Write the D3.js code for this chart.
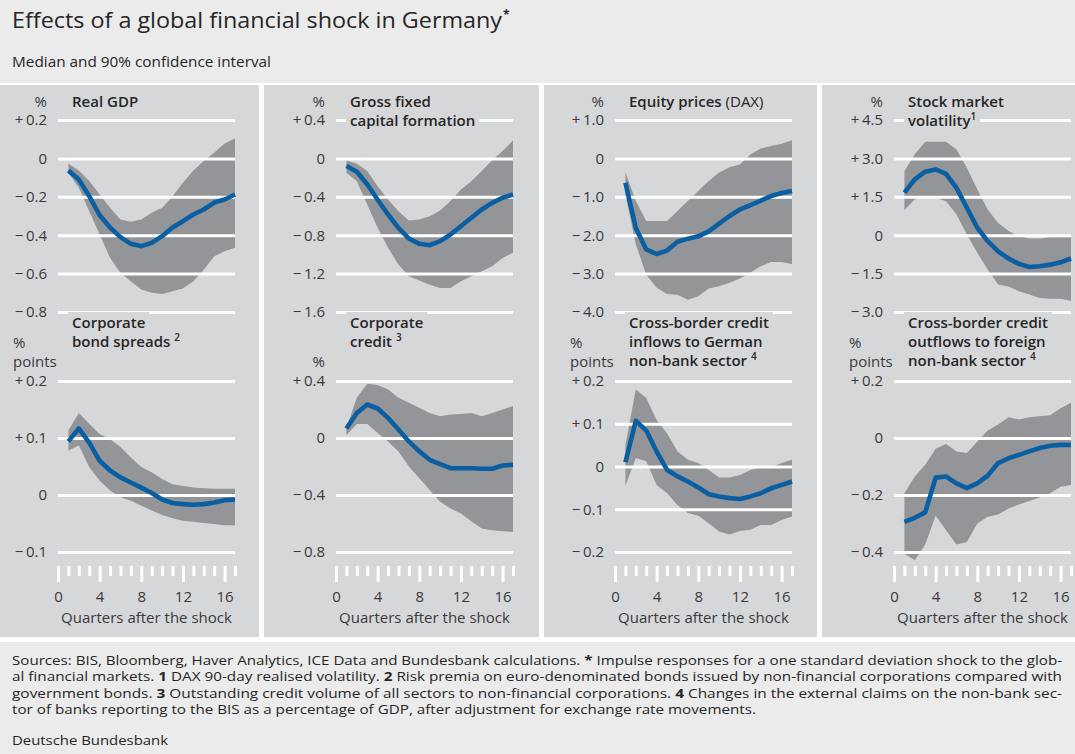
<!DOCTYPE html>
<html><head><meta charset="utf-8">
<script src="https://cdn.jsdelivr.net/npm/d3@7"></script>
<style>
body{margin:0;background:#fff;}
svg{display:block;font-family:"Open Sans","Noto Sans",sans-serif;}
</style>
</head><body><svg id="c" width="1075" height="754"></svg>
<script>
// ---------------- DATA ----------------
const quarters = [1,2,3,4,5,6,7,8,9,10,11,12,13,14,15,16,17];
const xTickLabels = [0,4,8,12,16];

const gdpMedian = [-0.063,-0.11,-0.197,-0.296,-0.36,-0.41,-0.445,-0.457,-0.44,-0.405,-0.36,-0.327,-0.292,-0.266,-0.23,-0.214,-0.188];
const gdpUpper  = [-0.028,-0.063,-0.118,-0.188,-0.257,-0.318,-0.33,-0.318,-0.283,-0.257,-0.197,-0.127,-0.063,-0.014,0.03,0.077,0.104];
const gdpLower  = [-0.075,-0.153,-0.275,-0.397,-0.518,-0.597,-0.64,-0.683,-0.70,-0.706,-0.692,-0.678,-0.64,-0.58,-0.51,-0.483,-0.466];
const gdpTicks  = [0.2,0,-0.2,-0.4,-0.6,-0.8];

const gfcfMedian = [-0.08,-0.139,-0.27,-0.43,-0.584,-0.723,-0.835,-0.89,-0.904,-0.862,-0.793,-0.706,-0.619,-0.532,-0.463,-0.41,-0.376];
const gfcfUpper  = [-0.02,-0.056,-0.132,-0.289,-0.428,-0.55,-0.647,-0.637,-0.602,-0.543,-0.445,-0.323,-0.237,-0.132,-0.02,0.077,0.188];
const gfcfLower  = [-0.15,-0.237,-0.48,-0.723,-0.932,-1.106,-1.228,-1.273,-1.315,-1.35,-1.35,-1.28,-1.228,-1.176,-1.123,-1.037,-0.984];
const gfcfTicks  = [0.4,0,-0.4,-0.8,-1.2,-1.6];

const equityMedian = [-0.635,-1.81,-2.37,-2.49,-2.4,-2.17,-2.09,-2.03,-1.9,-1.70,-1.5,-1.33,-1.22,-1.1,-0.98,-0.9,-0.85];
const equityUpper  = [-0.37,-1.11,-1.63,-1.63,-1.63,-1.37,-1.11,-0.85,-0.59,-0.37,-0.23,-0.16,0.10,0.26,0.32,0.38,0.47];
const equityLower  = [-0.94,-2.24,-3.03,-3.37,-3.53,-3.55,-3.68,-3.59,-3.39,-3.33,-3.24,-3.13,-2.98,-2.81,-2.70,-2.70,-2.75];
const equityTicks  = [1,0,-1,-2,-3,-4];

const volMedian = [1.66,2.18,2.48,2.57,2.40,1.85,1.07,0.29,-0.23,-0.63,-0.91,-1.12,-1.24,-1.21,-1.15,-1.06,-0.91];
const volUpper  = [2.5,3.16,3.65,3.65,3.65,3.35,2.63,1.79,1.0,0.48,0.16,-0.04,-0.13,-0.13,-0.08,-0.08,-0.08];
const volLower  = [0.97,1.40,1.53,1.46,1.33,0.81,0.03,-0.69,-1.34,-1.93,-2.0,-2.19,-2.32,-2.45,-2.48,-2.48,-2.56];
const volTicks  = [4.5,3,1.5,0,-1.5,-3];

const spreadMedian = [0.094,0.117,0.092,0.06,0.043,0.031,0.022,0.013,0.0035,-0.008,-0.014,-0.016,-0.017,-0.016,-0.013,-0.009,-0.008];
const spreadUpper  = [0.113,0.144,0.125,0.107,0.098,0.084,0.066,0.049,0.04,0.028,0.019,0.016,0.013,0.012,0.011,0.011,0.011];
const spreadLower  = [0.078,0.087,0.049,0.025,0.008,-0.004,-0.01,-0.019,-0.027,-0.035,-0.041,-0.045,-0.047,-0.049,-0.051,-0.053,-0.053];
const spreadTicks  = [0.2,0.1,0,-0.1];

const creditMedian = [0.066,0.176,0.235,0.207,0.141,0.059,-0.024,-0.094,-0.153,-0.184,-0.212,-0.212,-0.212,-0.216,-0.216,-0.193,-0.188];
const creditUpper  = [0.07,0.282,0.38,0.372,0.341,0.282,0.247,0.212,0.176,0.153,0.165,0.169,0.176,0.153,0.176,0.2,0.224];
const creditLower  = [0.02,0.099,0.099,0.035,-0.024,-0.094,-0.2,-0.282,-0.365,-0.447,-0.494,-0.53,-0.584,-0.635,-0.647,-0.654,-0.659];
const creditTicks  = [0.4,0,-0.4,-0.8];

const inflowMedian = [0.01,0.107,0.084,0.035,-0.008,-0.023,-0.035,-0.049,-0.065,-0.07,-0.074,-0.076,-0.07,-0.0625,-0.051,-0.043,-0.035];
const inflowUpper  = [0.05,0.18,0.16,0.109,0.078,0.035,0.016,0.008,-0.008,-0.026,-0.026,-0.02,-0.008,-0.002,-0.002,0.008,0.016];
const inflowLower  = [-0.045,0.02,0.012,-0.043,-0.0625,-0.09,-0.109,-0.115,-0.133,-0.152,-0.159,-0.151,-0.148,-0.137,-0.137,-0.125,-0.117];
const inflowTicks  = [0.2,0.1,0,-0.1,-0.2];

const outflowMedian = [-0.294,-0.28,-0.261,-0.139,-0.135,-0.159,-0.176,-0.159,-0.132,-0.088,-0.071,-0.059,-0.047,-0.035,-0.027,-0.024,-0.024];
const outflowUpper  = [-0.194,-0.135,-0.094,-0.038,-0.021,-0.047,-0.053,-0.012,0.026,0.047,0.073,0.065,0.073,0.076,0.08,0.104,0.124];
const outflowLower  = [-0.406,-0.429,-0.374,-0.273,-0.324,-0.374,-0.365,-0.3,-0.276,-0.268,-0.247,-0.233,-0.221,-0.209,-0.194,-0.171,-0.165];
const outflowTicks  = [0.2,0,-0.2,-0.4];

// ---------------- LAYOUT / STYLE ----------------
const C = {hdr:"#ebebec", panel:"#d6d7d9", band:"#939598", line:"#0a5fa3", text:"#262626", label:"#3a3a3a"};
const panelCols = [{x:0,w:259},{x:264,w:275},{x:544,w:273},{x:822,w:253}];
const chartX0 = [58,336,615,894];
const chartW = 177;
const topRange = [312,120], botRange = [552,381];

const charts = [
  {col:0,row:0,med:gdpMedian,up:gdpUpper,lo:gdpLower,ticks:gdpTicks,title:[[["Real GDP","b"]]],unit:"top"},
  {col:1,row:0,med:gfcfMedian,up:gfcfUpper,lo:gfcfLower,ticks:gfcfTicks,title:[[["Gross fixed","b"]],[["capital formation","b"]]],unit:"top"},
  {col:2,row:0,med:equityMedian,up:equityUpper,lo:equityLower,ticks:equityTicks,title:[[["Equity prices","b"],[" (DAX)","n"]]],unit:"top"},
  {col:3,row:0,med:volMedian,up:volUpper,lo:volLower,ticks:volTicks,title:[[["Stock market","b"]],[["volatility","b"],["1","s"]]],unit:"top"},
  {col:0,row:1,med:spreadMedian,up:spreadUpper,lo:spreadLower,ticks:spreadTicks,title:[[["Corporate","b"]],[["bond spreads ","b"],["2","s"]]],unit:"pts"},
  {col:1,row:1,med:creditMedian,up:creditUpper,lo:creditLower,ticks:creditTicks,title:[[["Corporate","b"]],[["credit ","b"],["3","s"]]],unit:"pct"},
  {col:2,row:1,med:inflowMedian,up:inflowUpper,lo:inflowLower,ticks:inflowTicks,title:[[["Cross-border credit","b"]],[["inflows to German","b"]],[["non-bank sector ","b"],["4","s"]]],unit:"pts"},
  {col:3,row:1,med:outflowMedian,up:outflowUpper,lo:outflowLower,ticks:outflowTicks,title:[[["Cross-border credit","b"]],[["outflows to foreign","b"]],[["non-bank sector ","b"],["4","s"]]],unit:"pts"}
];

const svg = d3.select("#c");
svg.append("rect").attr("width",1075).attr("height",754).attr("fill","#fff");
svg.append("rect").attr("x",0).attr("y",0).attr("width",1075).attr("height",83).attr("fill",C.hdr);
svg.append("rect").attr("x",0).attr("y",642).attr("width",1075).attr("height",112).attr("fill",C.hdr);
panelCols.forEach(p=>svg.append("rect").attr("x",p.x).attr("y",85).attr("width",p.w).attr("height",552).attr("fill",C.panel));

// header
const t = svg.append("text").attr("x",12).attr("y",28).attr("fill",C.text).style("font-size","21.5px");
t.append("tspan").text("Effects of a global financial shock in Germany").attr("textLength",490).attr("lengthAdjust","spacingAndGlyphs");
t.append("tspan").text("*").style("font-size","12px").attr("dy",-9).attr("dx",1).style("font-weight","bold");
svg.append("text").attr("x",12).attr("y",67).attr("fill",C.text).style("font-size","14px")
  .attr("textLength",259).attr("lengthAdjust","spacingAndGlyphs").text("Median and 90% confidence interval");

const fmt = v => v===0 ? "0" : (v>0 ? "+\u2009" : "\u2212\u2009") + Math.abs(v).toFixed(1);

charts.forEach(c=>{
  const x0 = chartX0[c.col];
  const x = d3.scaleLinear().domain([0,17]).range([x0, x0+chartW]);
  const y = d3.scaleLinear().domain(d3.extent(c.ticks)).range(c.row===0?topRange:botRange);
  const g = svg.append("g");
  const rows = quarters.map((q,i)=>({q, m:c.med[i], u:c.up[i], l:c.lo[i]}));
  // band
  g.append("path").datum(rows)
    .attr("d", d3.area().x(d=>x(d.q)).y0(d=>y(d.l)).y1(d=>y(d.u)))
    .attr("fill", C.band);
  // y axis with gridlines
  const ya = g.append("g").attr("transform",`translate(${x0},0)`)
    .call(d3.axisLeft(y).tickValues(c.ticks).tickSize(-chartW).tickPadding(11).tickFormat(fmt));
  ya.select(".domain").remove();
  ya.selectAll("line").attr("stroke","#fff").attr("stroke-width",3);
  ya.selectAll("text").attr("fill",C.label).style("font-size","15px").style("font-family",'"Open Sans",sans-serif');
  // median line
  g.append("path").datum(rows)
    .attr("d", d3.line().x(d=>x(d.q)).y(d=>y(d.m)))
    .attr("fill","none").attr("stroke",C.line).attr("stroke-width",4.6).attr("stroke-linejoin","round");
  // titles
  const tg = svg.append("g");
  const baseY = c.row===0 ? 107 : 328;
  c.title.forEach((line,li)=>{
    const tx = tg.append("text").attr("x",x0+14).attr("y",baseY+li*19).attr("fill",C.text).style("font-size","15px");
    line.forEach(([s,k])=>{
      const ts = tx.append("tspan").text(s);
      if(k==="b") ts.style("font-weight","600");
      if(k==="n") ts.style("font-weight","400");
      if(k==="s") ts.style("font-weight","600").style("font-size","10px").attr("dy",-6);
    });
    const bb = tx.node().getBBox();
    tg.insert("rect","text").attr("x",bb.x-4).attr("y",bb.y).attr("width",bb.width+8).attr("height",bb.height).attr("fill",C.panel);
  });
  // units
  const lab = (txt,xx,yy,anchor)=>svg.append("text").attr("x",xx).attr("y",yy).attr("text-anchor",anchor)
      .attr("fill",C.label).style("font-size","15px").text(txt);
  if(c.unit==="top") lab("%", x0-11, 107, "end");
  if(c.unit==="pct") lab("%", x0-11, 367, "end");
  if(c.unit==="pts"){ lab("%", x0-45, 348, "start"); lab("points", x0-45, 367, "start"); }
  // x axis on bottom row
  if(c.row===1){
    const xa = svg.append("g").attr("transform","translate(0,566)")
      .call(d3.axisBottom(x).tickValues(d3.range(0,18)).tickSize(10).tickFormat(d=>xTickLabels.includes(d)?d:""));
    xa.select(".domain").remove();
    xa.selectAll("line").attr("stroke","#fff").attr("stroke-width",3)
      .attr("y2", d=>xTickLabels.includes(d)?16:10);
    xa.selectAll("text").attr("y",36).attr("dy",0).attr("fill",C.label).style("font-size","15px").style("font-family",'"Open Sans",sans-serif');
    svg.append("text").attr("x",x0+chartW/2).attr("y",623).attr("text-anchor","middle")
      .attr("fill",C.label).style("font-size","15px").text("Quarters after the shock");
  }
});

// footnotes
const foot = [
  {y:665, w:1050, parts:[["Sources: BIS, Bloomberg, Haver Analytics, ICE Data and Bundesbank calculations. ",0],["*",1],[" Impulse responses for a one standard deviation shock to the glob-",0]]},
  {y:681, w:1050, parts:[["al financial markets. ",0],["1",1],[" DAX 90-day realised volatility. ",0],["2",1],[" Risk premia on euro-denominated bonds issued by non-financial corporations compared with",0]]},
  {y:698, w:1050, parts:[["government bonds. ",0],["3",1],[" Outstanding credit volume of all sectors to non-financial corporations. ",0],["4",1],[" Changes in the external claims on the non-bank sec-",0]]},
  {y:714, w:744, parts:[["tor of banks reporting to the BIS as a percentage of GDP, after adjustment for exchange rate movements.",0]]},
  {y:745, w:156, parts:[["Deutsche Bundesbank",0]]}
];
foot.forEach(f=>{
  const tx = svg.append("text").attr("x",12).attr("y",f.y).attr("fill",C.text).style("font-size","13px")
    .attr("textLength",f.w).attr("lengthAdjust","spacingAndGlyphs");
  f.parts.forEach(([s,b])=>{ const ts = tx.append("tspan").text(s); if(b) ts.style("font-weight","bold"); });
});
</script></body></html>
